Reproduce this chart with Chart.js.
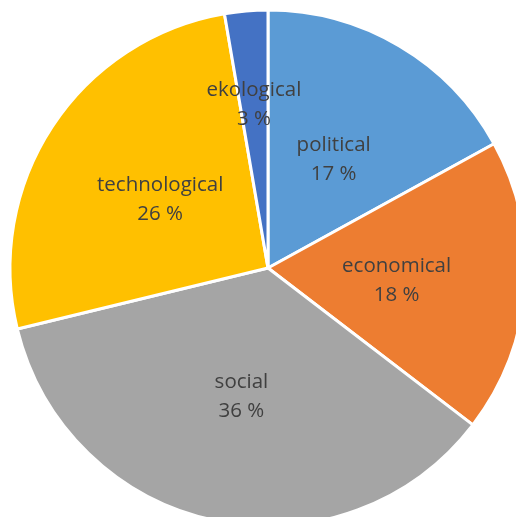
<!DOCTYPE html>
<html>
<head>
<meta charset="utf-8">
<script src="https://cdn.jsdelivr.net/npm/chart.js@4.4.0/dist/chart.umd.min.js"></script>
<style>
  html, body { margin: 0; padding: 0; background: #fff; overflow: hidden; }
  #wrap { width: 516px; height: 517px; overflow: hidden; position: relative; }
  #pie { position: absolute; left: 0; top: 0; }
</style>
</head>
<body>
<div id="wrap"><canvas id="pie" width="540" height="540"></canvas></div>
<script>
var labels = ["political", "economical", "social", "technological", "ekological"];
var values = [17.0, 18.4, 35.8, 26.1, 2.7];
var percentLabels = ["17 %", "18 %", "36 %", "26 %", "3 %"];
var colors = ["#5B9BD5", "#ED7D31", "#A5A5A5", "#FFC000", "#4472C4"];

// how far out (fraction of radius) each label sits
var labelRadius = [0.5, 0.5, 0.5, 0.5, 0.645];

var sliceLabels = {
  id: "sliceLabels",
  afterDatasetsDraw: function(chart) {
    var ctx = chart.ctx;
    var meta = chart.getDatasetMeta(0);
    ctx.save();
    ctx.fillStyle = "#404040";
    ctx.font = "20.5px 'Open Sans', sans-serif";
    ctx.textAlign = "center";
    ctx.textBaseline = "middle";
    meta.data.forEach(function(arc, i) {
      var mid = (arc.startAngle + arc.endAngle) / 2;
      var r = arc.outerRadius * labelRadius[i];
      var x = arc.x + Math.cos(mid) * r;
      var y = arc.y + Math.sin(mid) * r + 2.5;
      ctx.fillText(labels[i], x, y - 14.5);
      ctx.fillText(percentLabels[i], x, y + 14.5);
    });
    ctx.restore();
  }
};

var pie = new Chart(document.getElementById("pie"), {
  type: "pie",
  data: {
    labels: labels,
    datasets: [{
      data: values,
      backgroundColor: colors,
      borderColor: "#ffffff",
      borderWidth: 3,
      radius: 258
    }]
  },
  options: {
    responsive: false,
    animation: false,
    layout: { padding: { left: 0, top: 0, right: 4, bottom: 4 } },
    plugins: {
      legend: { display: false },
      tooltip: { enabled: false }
    }
  },
  plugins: [sliceLabels]
});
</script>
</body>
</html>
